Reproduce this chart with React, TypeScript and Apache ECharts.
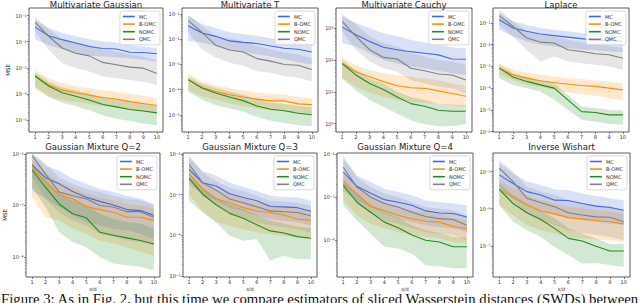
import React, { useEffect, useRef } from 'react';
import * as echarts from 'echarts';

// x values (s/d)
const steps = [1, 2, 3, 4, 5, 6, 7, 8, 9, 10];
const methods = ['MC', 'B-OMC', 'NOMC', 'QMC'];
const methodColors = ['#4169E1', '#FF8C00', '#228B22', '#808080'];

// All values are log10(MSE): mean, lower and upper band edges
const gaussianMC = { mean: [-1.44, -1.77, -1.92, -2.05, -2.18, -2.26, -2.28, -2.40, -2.41, -2.46], lo: [-1.90, -2.12, -2.28, -2.44, -2.54, -2.56, -2.59, -2.63, -2.69, -2.76], hi: [-1.18, -1.47, -1.67, -1.79, -1.90, -1.99, -2.03, -2.12, -2.18, -2.24] };
const gaussianQMC = { mean: [-1.26, -1.79, -2.24, -2.44, -2.54, -2.79, -2.88, -2.97, -3.01, -3.21], lo: [-1.60, -2.31, -2.82, -3.01, -3.14, -3.33, -3.40, -3.46, -3.53, -3.65], hi: [-1.05, -1.51, -1.90, -2.03, -2.12, -2.31, -2.37, -2.50, -2.56, -2.72] };
const gaussianBOMC = { mean: [-3.31, -3.65, -3.85, -3.95, -4.04, -4.13, -4.19, -4.29, -4.36, -4.44], lo: [-3.82, -4.10, -4.23, -4.29, -4.38, -4.46, -4.51, -4.59, -4.68, -4.74], hi: [-3.10, -3.40, -3.59, -3.69, -3.78, -3.85, -3.91, -4.00, -4.06, -4.17] };
const gaussianNOMC = { mean: [-3.31, -3.69, -3.95, -4.08, -4.23, -4.40, -4.49, -4.59, -4.65, -4.72], lo: [-3.72, -4.10, -4.33, -4.46, -4.62, -4.81, -4.94, -5.03, -5.13, -5.19], hi: [-3.18, -3.53, -3.74, -3.85, -4.00, -4.13, -4.21, -4.29, -4.36, -4.46] };

const studentMC = { mean: [-1.47, -1.76, -1.89, -2.07, -2.13, -2.17, -2.27, -2.36, -2.40, -2.51], lo: [-2.07, -2.13, -2.27, -2.40, -2.51, -2.60, -2.69, -2.80, -2.91, -3.00], hi: [-1.07, -1.40, -1.57, -1.73, -1.80, -1.87, -1.97, -2.07, -2.13, -2.20] };
const studentQMC = { mean: [-1.27, -1.73, -2.24, -2.43, -2.51, -2.77, -2.87, -3.00, -3.03, -3.20], lo: [-1.73, -2.40, -2.73, -2.93, -3.04, -3.27, -3.33, -3.47, -3.53, -3.67], hi: [-1.04, -1.47, -1.87, -1.97, -2.07, -2.27, -2.40, -2.53, -2.60, -2.77] };
const studentBOMC = { mean: [-3.60, -3.91, -4.07, -4.20, -4.29, -4.37, -4.44, -4.44, -4.56, -4.59], lo: [-4.00, -4.27, -4.40, -4.53, -4.64, -4.73, -4.80, -4.84, -4.93, -5.00], hi: [-3.36, -3.67, -3.84, -3.93, -4.03, -4.11, -4.17, -4.20, -4.29, -4.33] };
const studentNOMC = { mean: [-3.60, -3.93, -4.13, -4.29, -4.43, -4.64, -4.77, -4.83, -4.93, -4.99], lo: [-4.07, -4.40, -4.60, -4.73, -4.87, -5.07, -5.23, -5.31, -5.40, -5.44], hi: [-3.49, -3.76, -3.93, -4.07, -4.20, -4.37, -4.51, -4.56, -4.64, -4.69] };

const cauchyMC = { mean: [3.03, 2.79, 2.58, 2.40, 2.32, 2.26, 2.21, 2.16, 2.03, 2.02], lo: [2.53, 2.42, 2.21, 2.00, 1.89, 1.79, 1.74, 1.66, 1.58, 1.53], hi: [3.37, 3.16, 3.00, 2.84, 2.74, 2.63, 2.55, 2.47, 2.40, 2.37] };
const cauchyQMC = { mean: [3.21, 2.74, 2.32, 2.08, 2.03, 1.74, 1.66, 1.56, 1.53, 1.37], lo: [2.89, 2.32, 1.95, 1.74, 1.63, 1.37, 1.26, 1.16, 1.11, 0.95], hi: [3.45, 3.11, 2.74, 2.53, 2.42, 2.21, 2.11, 2.00, 1.95, 1.84] };
const cauchyBOMC = { mean: [1.89, 1.63, 1.47, 1.32, 1.19, 1.13, 1.11, 1.03, 0.95, 0.86], lo: [1.42, 1.16, 0.97, 0.84, 0.74, 0.68, 0.65, 0.63, 0.58, 0.53], hi: [2.08, 1.84, 1.68, 1.58, 1.53, 1.47, 1.42, 1.37, 1.26, 1.18] };
const cauchyNOMC = { mean: [1.89, 1.53, 1.26, 1.07, 0.84, 0.63, 0.55, 0.42, 0.39, 0.39], lo: [1.42, 1.05, 0.74, 0.53, 0.32, 0.11, -0.02, -0.08, -0.08, -0.02], hi: [2.00, 1.68, 1.42, 1.26, 1.00, 0.84, 0.74, 0.63, 0.60, 0.58] };

const laplaceMC = { mean: [-0.85, -1.23, -1.38, -1.51, -1.58, -1.65, -1.72, -1.80, -1.80, -1.85], lo: [-1.31, -1.62, -1.85, -2.00, -2.08, -2.15, -2.23, -2.26, -2.31, -2.35], hi: [-0.54, -0.92, -1.08, -1.23, -1.31, -1.38, -1.46, -1.49, -1.54, -1.58] };
const laplaceQMC = { mean: [-0.66, -1.15, -1.69, -1.88, -1.92, -2.23, -2.31, -2.42, -2.46, -2.62], lo: [-1.08, -1.62, -2.23, -2.77, -2.54, -2.77, -2.85, -2.92, -3.00, -3.15], hi: [-0.38, -0.92, -1.38, -1.54, -1.62, -1.77, -1.89, -2.00, -2.05, -2.15] };
const laplaceBOMC = { mean: [-3.08, -3.38, -3.54, -3.66, -3.74, -3.82, -3.88, -3.92, -4.00, -4.08], lo: [-3.38, -3.62, -3.85, -3.95, -4.08, -4.20, -4.28, -4.35, -4.46, -4.57], hi: [-2.85, -3.15, -3.28, -3.38, -3.46, -3.54, -3.58, -3.65, -3.69, -3.77] };
const laplaceNOMC = { mean: [-3.08, -3.49, -3.69, -3.85, -4.00, -4.54, -5.08, -5.12, -5.23, -5.23], lo: [-3.54, -3.85, -4.00, -4.15, -4.54, -5.00, -5.46, -5.54, -5.65, -5.69], hi: [-2.92, -3.31, -3.49, -3.65, -3.77, -4.31, -4.85, -4.92, -5.00, -5.03] };

const mix2MC = { mean: [-2.21, -2.46, -2.58, -2.73, -2.84, -2.92, -2.99, -3.08, -3.10, -3.19], lo: [-2.71, -2.87, -3.03, -3.19, -3.32, -3.39, -3.45, -3.48, -3.55, -3.65], hi: [-2.00, -2.23, -2.32, -2.48, -2.58, -2.68, -2.74, -2.81, -2.87, -2.97] };
const mix2QMC = { mean: [-2.03, -2.39, -2.74, -2.81, -2.87, -3.00, -3.03, -3.12, -3.12, -3.23], lo: [-2.45, -2.87, -3.13, -3.29, -3.39, -3.55, -3.61, -3.68, -3.71, -3.77], hi: [-1.97, -2.19, -2.45, -2.58, -2.68, -2.74, -2.81, -2.87, -2.90, -3.00] };
const mix2BOMC = { mean: [-2.26, -2.55, -2.79, -2.87, -3.02, -3.08, -3.13, -3.23, -3.23, -3.29], lo: [-2.84, -3.23, -3.29, -3.45, -3.55, -3.68, -3.74, -3.81, -3.90, -3.97], hi: [-2.10, -2.35, -2.55, -2.65, -2.77, -2.84, -2.90, -2.97, -3.00, -3.06] };
const mix2NOMC = { mean: [-2.31, -2.65, -2.97, -3.16, -3.24, -3.52, -3.58, -3.63, -3.68, -3.75], lo: [-2.65, -3.03, -3.52, -3.71, -3.81, -4.00, -4.13, -4.16, -4.19, -4.26], hi: [-2.19, -2.48, -2.77, -2.90, -3.00, -3.16, -3.26, -3.32, -3.35, -3.45] };

const mix3MC = { mean: [-2.38, -2.71, -2.79, -2.98, -3.07, -3.15, -3.29, -3.30, -3.32, -3.41], lo: [-2.75, -2.99, -3.15, -3.32, -3.40, -3.52, -3.60, -3.64, -3.68, -3.76], hi: [-2.08, -2.42, -2.54, -2.71, -2.81, -2.91, -3.03, -3.06, -3.07, -3.15] };
const mix3QMC = { mean: [-2.26, -2.71, -2.89, -3.11, -3.20, -3.30, -3.40, -3.42, -3.44, -3.52], lo: [-2.59, -3.03, -3.24, -3.44, -3.56, -3.68, -3.76, -3.80, -3.85, -3.93], hi: [-2.06, -2.46, -2.67, -2.83, -2.91, -3.03, -3.15, -3.17, -3.20, -3.28] };
const mix3BOMC = { mean: [-2.49, -2.87, -3.11, -3.20, -3.32, -3.40, -3.44, -3.50, -3.60, -3.63], lo: [-2.99, -3.40, -3.68, -3.76, -3.85, -3.93, -3.97, -4.01, -4.05, -4.09], hi: [-2.30, -2.67, -2.87, -2.99, -3.09, -3.20, -3.25, -3.28, -3.36, -3.40] };
const mix3NOMC = { mean: [-2.60, -2.99, -3.25, -3.46, -3.58, -3.74, -3.89, -3.94, -4.03, -4.07], lo: [-3.15, -3.44, -3.68, -4.01, -4.13, -4.09, -4.62, -4.50, -4.58, -4.58], hi: [-2.46, -2.83, -3.07, -3.24, -3.36, -3.50, -3.64, -3.71, -3.79, -3.82] };

const mix4MC = { mean: [-2.42, -2.75, -2.91, -3.06, -3.12, -3.19, -3.32, -3.37, -3.38, -3.46], lo: [-2.85, -3.08, -3.23, -3.38, -3.50, -3.58, -3.65, -3.69, -3.73, -3.81], hi: [-2.12, -2.50, -2.65, -2.81, -2.88, -2.96, -3.08, -3.12, -3.15, -3.19] };
const mix4QMC = { mean: [-2.31, -2.77, -3.00, -3.15, -3.23, -3.35, -3.45, -3.50, -3.52, -3.65], lo: [-2.69, -3.15, -3.35, -3.54, -3.62, -3.73, -3.81, -3.85, -3.88, -4.00], hi: [-2.04, -2.54, -2.77, -2.92, -3.00, -3.12, -3.23, -3.27, -3.31, -3.42] };
const mix4BOMC = { mean: [-2.69, -2.92, -3.22, -3.31, -3.42, -3.50, -3.56, -3.58, -3.68, -3.73], lo: [-3.08, -3.42, -3.62, -3.73, -3.81, -3.88, -3.92, -3.96, -4.04, -4.08], hi: [-2.50, -2.73, -3.00, -3.12, -3.23, -3.31, -3.35, -3.40, -3.48, -3.54] };
const mix4NOMC = { mean: [-2.73, -3.12, -3.35, -3.58, -3.71, -3.88, -4.00, -4.04, -4.15, -4.15], lo: [-3.19, -3.54, -3.85, -4.15, -4.19, -4.31, -4.58, -4.60, -4.65, -4.65], hi: [-2.58, -2.92, -3.17, -3.35, -3.48, -3.65, -3.77, -3.83, -3.92, -3.94] };

const wishartMC = { mean: [-5.09, -5.32, -5.54, -5.63, -5.77, -5.78, -5.86, -5.93, -5.97, -6.04], lo: [-5.50, -5.68, -5.90, -6.04, -6.17, -6.22, -6.31, -6.35, -6.40, -6.44], hi: [-4.77, -5.05, -5.27, -5.36, -5.48, -5.50, -5.59, -5.66, -5.72, -5.78] };
const wishartQMC = { mean: [-4.91, -5.27, -5.72, -5.84, -5.95, -6.11, -6.17, -6.22, -6.23, -6.35], lo: [-5.41, -5.77, -6.13, -6.31, -6.44, -6.58, -6.65, -6.71, -6.76, -6.85], hi: [-4.68, -5.00, -5.41, -5.54, -5.63, -5.77, -5.86, -5.90, -5.93, -6.04] };
const wishartBOMC = { mean: [-5.48, -5.69, -5.90, -6.06, -6.14, -6.24, -6.28, -6.32, -6.35, -6.41], lo: [-5.90, -6.17, -6.44, -6.58, -6.67, -6.76, -6.80, -6.83, -6.85, -6.89], hi: [-5.23, -5.45, -5.63, -5.77, -5.86, -5.95, -5.99, -6.04, -6.08, -6.14] };
const wishartNOMC = { mean: [-5.48, -5.86, -6.11, -6.29, -6.53, -6.80, -6.87, -7.01, -7.14, -7.14], lo: [-5.90, -6.35, -6.58, -6.76, -7.03, -7.25, -7.48, -7.46, -7.52, -7.57], hi: [-5.32, -5.63, -5.86, -6.04, -6.26, -6.53, -6.67, -6.80, -6.95, -6.95] };

// y tick exponents per panel
const ticksGaussian = [-1, -2, -3, -4, -5];
const ticksStudent = [-1, -2, -3, -4, -5];
const ticksCauchy = [0, 1, 2, 3];
const ticksLaplace = [-1, -2, -3, -4, -5, -6];
const ticksMix2 = [-2, -3, -4];
const ticksMix3 = [-2, -3, -4, -5];
const ticksMix4 = [-2, -3, -4];
const ticksWishart = [-5, -6, -7];

const caption = 'Figure 3: As in Fig. 2, but this time we compare estimators of sliced Wasserstein distances (SWDs) between';

const panels = [
  { title: 'Multivariate Gaussian', data: [gaussianMC, gaussianBOMC, gaussianNOMC, gaussianQMC], ticks: ticksGaussian, yMin: -5.45, yMax: -0.71, box: [29, 8, 134, 124], ylabel: true, xlabel: false },
  { title: 'Multivariate T', data: [studentMC, studentBOMC, studentNOMC, studentQMC], ticks: ticksStudent, yMin: -5.67, yMax: -0.77, box: [182, 8, 136, 124], ylabel: false, xlabel: false },
  { title: 'Multivariate Cauchy', data: [cauchyMC, cauchyBOMC, cauchyNOMC, cauchyQMC], ticks: ticksCauchy, yMin: -0.26, yMax: 3.63, box: [336, 8, 136, 124], ylabel: false, xlabel: false },
  { title: 'Laplace', data: [laplaceMC, laplaceBOMC, laplaceNOMC, laplaceQMC], ticks: ticksLaplace, yMin: -6.02, yMax: -0.31, box: [493, 8, 136, 124], ylabel: false, xlabel: false },
  { title: 'Gaussian Mixture Q=2', data: [mix2MC, mix2BOMC, mix2NOMC, mix2QMC], ticks: ticksMix2, yMin: -4.39, yMax: -1.98, box: [26, 153, 134, 124], ylabel: true, xlabel: true },
  { title: 'Gaussian Mixture Q=3', data: [mix3MC, mix3BOMC, mix3NOMC, mix3QMC], ticks: ticksMix3, yMin: -5.02, yMax: -1.98, box: [183, 153, 134, 124], ylabel: false, xlabel: true },
  { title: 'Gaussian Mixture Q=4', data: [mix4MC, mix4BOMC, mix4NOMC, mix4QMC], ticks: ticksMix4, yMin: -4.85, yMax: -1.98, box: [337, 153, 136, 124], ylabel: false, xlabel: true },
  { title: 'Inverse Wishart', data: [wishartMC, wishartBOMC, wishartNOMC, wishartQMC], ticks: ticksWishart, yMin: -7.84, yMax: -4.5, box: [493, 153, 137, 124], ylabel: false, xlabel: true },
];

const SUP: Record<string, string> = { '-': '\u207B', '0': '\u2070', '1': '\u00B9', '2': '\u00B2', '3': '\u00B3', '4': '\u2074', '5': '\u2075', '6': '\u2076', '7': '\u2077', '8': '\u2078', '9': '\u2079' };
const pow10 = (v: number) => '10' + String(Math.round(v)).split('').map((c) => SUP[c] || c).join('');

const minorTicks = (lo: number, hi: number) => {
  const out: number[] = [];
  for (let n = Math.floor(lo) - 1; n <= Math.ceil(hi); n++) {
    for (let k = 2; k <= 9; k++) {
      const v = n + Math.log10(k);
      if (v > lo && v < hi) out.push(v);
    }
  }
  return out;
};

const FONT = '"DejaVu Sans", sans-serif';

function buildOption() {
  const grid: any[] = [];
  const xAxis: any[] = [];
  const yAxis: any[] = [];
  const series: any[] = [];
  const legend: any[] = [];
  const graphic: any[] = [];

  panels.forEach((p, i) => {
    const [l, t, w, h] = p.box;
    grid.push({ left: l, top: t, width: w, height: h, show: true, borderColor: '#333', borderWidth: 0.8, backgroundColor: 'transparent' });
    xAxis.push({
      type: 'value', gridIndex: i, min: 0.55, max: 10.45, position: 'bottom',
      axisLine: { show: false, onZero: false }, splitLine: { show: false },
      axisTick: { show: true, customValues: steps, length: 2, lineStyle: { color: '#333', width: 0.6 } },
      axisLabel: { customValues: steps, fontSize: 5, color: '#333', margin: 2.5, fontFamily: FONT },
    });
    yAxis.push({
      type: 'value', gridIndex: i, min: p.yMin, max: p.yMax, position: 'left',
      axisLine: { show: false, onZero: false }, splitLine: { show: false },
      axisTick: { show: true, customValues: p.ticks, length: 2, lineStyle: { color: '#333', width: 0.6 } },
      axisLabel: { customValues: p.ticks, formatter: (v: number) => pow10(v), fontSize: 5, color: '#333', margin: 2.5, fontFamily: FONT },
    });
    yAxis.push({
      type: 'value', gridIndex: i, min: p.yMin, max: p.yMax, position: 'left',
      axisLine: { show: false, onZero: false }, splitLine: { show: false },
      axisTick: { show: true, customValues: minorTicks(p.yMin, p.yMax), length: 1.2, lineStyle: { color: '#666', width: 0.5 } },
      axisLabel: { show: false },
    });

    // shaded bands (lower..upper), drawn as polygons through the axis scales
    p.data.forEach((d, m) => {
      series.push({
        type: 'custom', name: methods[m] + ' range', xAxisIndex: i, yAxisIndex: 2 * i,
        data: steps.map((x, k) => [x, d.lo[k], d.hi[k]]),
        encode: { x: 0, y: [1, 2] },
        clip: true, silent: true, z: 1,
        renderItem: (params: any, api: any) => {
          if (params.dataIndex !== 0) return null;
          const upper = steps.map((x, k) => api.coord([x, d.hi[k]]));
          const lower = steps.map((x, k) => api.coord([x, d.lo[k]])).reverse();
          return {
            type: 'polygon',
            shape: { points: upper.concat(lower) },
            style: { fill: methodColors[m], opacity: 0.2 },
          };
        },
      });
    });
    p.data.forEach((d, m) => {
      series.push({
        type: 'line', name: methods[m], xAxisIndex: i, yAxisIndex: 2 * i,
        data: steps.map((x, k) => [x, d.mean[k]]),
        symbol: 'none', lineStyle: { color: methodColors[m], width: 1.1 }, itemStyle: { color: methodColors[m] }, z: 3,
      });
    });

    legend.push({
      orient: 'vertical', right: 640 - (l + w) + 3, top: t + 3,
      data: methods.map((n) => ({ name: n, icon: 'rect' })),
      itemWidth: 12, itemHeight: 1.6, itemGap: 2.6,
      textStyle: { fontSize: 5, color: '#333', fontFamily: FONT, padding: [0, 0, 0, -1] },
      padding: [3, 4, 3, 3], backgroundColor: 'rgba(255,255,255,0.8)', borderColor: '#ccc', borderWidth: 0.7, borderRadius: 2,
      selectedMode: false,
    });

    graphic.push({
      type: 'text', x: l + w / 2, y: i < 4 ? t - 3.5 : t - 6,
      style: { text: p.title, fill: '#222', fontSize: 8.5, fontFamily: FONT, align: 'center', verticalAlign: 'middle' },
    });
    if (p.ylabel) {
      graphic.push({
        type: 'text', x: l - 21, y: t + h / 2, rotation: Math.PI / 2,
        style: { text: 'MSE', fill: '#222', fontSize: 5.5, fontFamily: FONT, align: 'center', verticalAlign: 'middle' },
      });
    }
    if (p.xlabel) {
      graphic.push({
        type: 'text', x: l + w / 2, y: t + h + 11.5,
        style: { text: 's/d', fill: '#222', fontSize: 5, fontFamily: FONT, align: 'center', verticalAlign: 'middle' },
      });
    }
  });

  graphic.push({
    type: 'text', x: 1, y: 299,
    style: { text: caption, fill: '#111', fontSize: 14.75, fontFamily: '"Liberation Serif", serif', align: 'left', verticalAlign: 'middle' },
  });

  return {
    animation: false,
    backgroundColor: '#fff',
    textStyle: { fontFamily: FONT },
    grid, xAxis, yAxis, series, legend, graphic,
  };
}

export default function App() {
  const ref = useRef<HTMLDivElement>(null);
  useEffect(() => {
    if (!ref.current) return;
    const chart = echarts.init(ref.current, undefined, { renderer: 'svg' });
    chart.setOption(buildOption() as any);
    return () => chart.dispose();
  }, []);
  return <div ref={ref} style={{ position: 'fixed', left: 0, top: 0, width: 640, height: 303 }} />;
}
